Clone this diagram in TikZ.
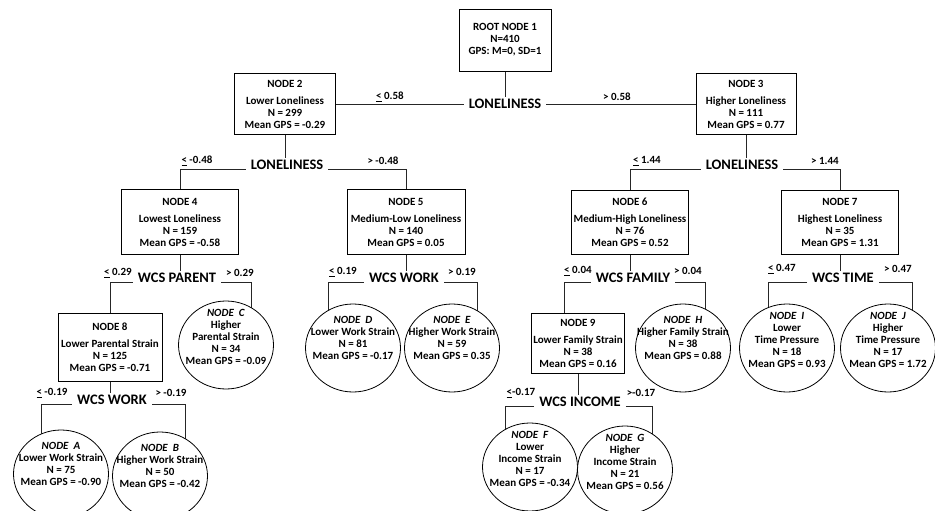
\documentclass[tikz,border=0pt]{standalone}
\usepackage{fontspec}
\setmainfont{Carlito}
\usetikzlibrary{shapes.geometric,backgrounds}

\begin{document}
\begin{tikzpicture}[x=1pt,y=-1pt,
  box/.style={draw, line width=0.9pt, fill=white, align=center, inner sep=0pt,
    font=\bfseries\fontsize{11}{12}\selectfont},
  leaf/.style={draw, ellipse, line width=0.8pt, fill=white,
    minimum width=95pt, minimum height=88pt, inner sep=0pt},
  leaftext/.style={align=center, anchor=north, inner sep=0pt,
    font=\bfseries\fontsize{11}{12}\selectfont},
  split/.style={font=\bfseries\fontsize{14.5}{16}\selectfont, inner xsep=5pt, inner ysep=2pt},
  thr/.style={font=\bfseries\fontsize{11}{12}\selectfont, inner sep=0pt},
  conn/.style={draw, line width=0.7pt, black!85},
]
\useasboundingbox (0,0) rectangle (935,511);

% ---------- level 0 / 1 ----------
\node[box, minimum width=92pt, minimum height=62pt] (root) at (505,40)
  {ROOT NODE 1\\N=410\\GPS: M=0, SD=1};
\node[split] (L1) at (505,104) {LONELINESS};
\node[thr] (t1a) at (390,97) {\underline{<} 0.58};
\node[thr] (t1b) at (617,97) {> 0.58};

\node[box, minimum width=101pt, minimum height=61pt] (n2) at (285,104)
  {NODE 2\\[5pt]Lower Loneliness\\N = 299\\Mean GPS = -0.29};
\node[box, minimum width=100pt, minimum height=61pt] (n3) at (746,104)
  {NODE 3\\[5pt]Higher Loneliness\\N = 111\\Mean GPS = 0.77};

% ---------- level 2 ----------
\node[split] (L2a) at (287,165) {LONELINESS};
\node[thr] (t2a) at (197,161) {\underline{<} -0.48};
\node[thr] (t2b) at (383,161) {> -0.48};
\node[box, minimum width=117pt, minimum height=65pt] (n4) at (180,222)
  {NODE 4\\[5pt]Lowest Loneliness\\N = 159\\Mean GPS = -0.58};
\node[box, minimum width=118pt, minimum height=65pt] (n5) at (406,222)
  {NODE 5\\[5pt]Medium-Low Loneliness\\N = 140\\Mean GPS = 0.05};

\node[split] (L2b) at (742,165) {LONELINESS};
\node[thr] (t2c) at (647,161) {\underline{<} 1.44};
\node[thr] (t2d) at (825,161) {> 1.44};
\node[box, minimum width=117pt, minimum height=64pt] (n6) at (630,222)
  {NODE 6\\[5pt]Medium-High Loneliness\\N = 76\\Mean GPS = 0.52};
\node[box, minimum width=117pt, minimum height=64pt] (n7) at (840,222)
  {NODE 7\\[5pt]Highest Loneliness\\N = 35\\Mean GPS = 1.31};

% ---------- level 3 ----------
\node[split] (L3a) at (177,278) {WCS PARENT};
\node[thr] (t3a) at (118,273) {\underline{<} 0.29};
\node[thr] (t3b) at (240,273) {> 0.29};
\node[box, minimum width=104pt, minimum height=68pt] (n8) at (110,347)
  {NODE 8\\[5pt]Lower Parental Strain\\N = 125\\Mean GPS = -0.71};
\node[leaf] (nC) at (226,345) {};
\node[leaftext] (tC) at ([yshift=-8pt]nC.north)
  {\textit{NODE~~C}\\Higher\\Parental Strain\\N = 34\\Mean GPS = -0.09};

\node[split] (L3b) at (404,278) {WCS WORK};
\node[thr] (t3c) at (343,272) {\underline{<} 0.19};
\node[thr] (t3d) at (462,272) {> 0.19};
\node[leaf] (nD) at (353,348) {};
\node[leaftext] (tD) at ([yshift=-12pt]nD.north)
  {\textit{NODE~~D}\\Lower Work Strain\\N = 81\\Mean GPS = -0.17};
\node[leaf] (nE) at (452,348) {};
\node[leaftext] (tE) at ([yshift=-12pt]nE.north)
  {\textit{NODE~~E}\\Higher Work Strain\\N = 59\\Mean GPS = 0.35};

\node[split] (L3c) at (633,278) {WCS FAMILY};
\node[thr] (t3e) at (578,271) {\underline{<} 0.04};
\node[thr] (t3f) at (688,271) {> 0.04};
\node[box, minimum width=93pt, minimum height=60pt] (n9) at (578,343)
  {NODE 9\\[5pt]Lower Family Strain\\N = 38\\Mean GPS = 0.16};
\node[leaf] (nH) at (683,348) {};
\node[leaftext] (tH) at ([yshift=-12pt]nH.north)
  {\textit{NODE~~H}\\Higher Family Strain\\N = 38\\Mean GPS = 0.88};

\node[split] (L3d) at (843,278) {WCS TIME};
\node[thr] (t3g) at (782,269) {\underline{<} 0.47};
\node[thr] (t3h) at (898,269) {> 0.47};
\node[leaf] (nI) at (787,348) {};
\node[leaftext] (tI) at ([yshift=-8pt]nI.north)
  {\textit{NODE~~I}\\Lower\\Time Pressure\\N = 18\\Mean GPS = 0.93};
\node[leaf] (nJ) at (888,348) {};
\node[leaftext] (tJ) at ([yshift=-8pt]nJ.north)
  {\textit{NODE~~J}\\Higher\\Time Pressure\\N = 17\\Mean GPS = 1.72};

% ---------- level 4 ----------
\node[split] (L4a) at (112,400) {WCS WORK};
\node[thr] (t4a) at (52,393) {\underline{<} -0.19};
\node[thr] (t4b) at (171,393) {> -0.19};
\node[leaf] (nA) at (61,474) {};
\node[leaftext] (tA) at ([yshift=-12pt]nA.north)
  {\textit{NODE~~A}\\Lower Work Strain\\N = 75\\Mean GPS = -0.90};
\node[leaf] (nB) at (160,476) {};
\node[leaftext] (tB) at ([yshift=-12pt]nB.north)
  {\textit{NODE~~B}\\Higher Work Strain\\N = 50\\Mean GPS = -0.42};

\node[split] (L4b) at (580,402) {WCS INCOME};
\node[thr] (t4c) at (521,393) {\underline{<}-0.17};
\node[thr] (t4d) at (641,393) {>-0.17};
\node[leaf] (nF) at (530,467) {};
\node[leaftext] (tF) at ([yshift=-8pt]nF.north)
  {\textit{NODE~~F}\\Lower\\Income Strain\\N = 17\\Mean GPS = -0.34};
\node[leaf] (nG) at (625,470) {};
\node[leaftext] (tG) at ([yshift=-8pt]nG.north)
  {\textit{NODE~~G}\\Higher\\Income Strain\\N = 21\\Mean GPS = 0.56};

% ---------- connectors (behind the filled nodes) ----------
\begin{scope}[on background layer]
  \draw[conn] (root.south) -- (L1.north);
  \draw[conn] (n2.east) -- (L1.west);
  \draw[conn] (L1.east) -- (n3.west);

  \draw[conn] (n2.south) -- (n2.south |- L2a.north);
  \draw[conn] (L2a.base west) -| (n4.north);
  \draw[conn] (L2a.base east) -| (n5.north);
  \draw[conn] (n3.south) -- (n3.south |- L2b.north);
  \draw[conn] (L2b.base west) -| (n6.north);
  \draw[conn] (L2b.base east) -| (n7.north);

  \draw[conn] (n4.south) -- (n4.south |- L3a.north);
  \draw[conn] (L3a.base west) -| (n8.north);
  \draw[conn] (L3a.base east) -| ([xshift=25pt]nC.center);
  \draw[conn] (n5.south) -- (n5.south |- L3b.north);
  \draw[conn] (L3b.base west) -| ([xshift=-25pt]nD.center);
  \draw[conn] (L3b.base east) -| ([xshift=25pt]nE.center);
  \draw[conn] (n6.south) -- (n6.south |- L3c.north);
  \draw[conn] (L3c.base west) -| ([xshift=-14pt]n9.north);
  \draw[conn] (L3c.base east) -| ([xshift=22pt]nH.center);
  \draw[conn] (n7.south) -- (n7.south |- L3d.north);
  \draw[conn] (L3d.base west) -| ([xshift=-19pt]nI.center);
  \draw[conn] (L3d.base east) -| ([xshift=24pt]nJ.center);

  \draw[conn] (n8.south) -- (n8.south |- L4a.north);
  \draw[conn] (L4a.base west) -| ([xshift=-20pt]nA.center);
  \draw[conn] (L4a.base east) -| ([xshift=25pt]nB.center);
  \draw[conn] (n9.south) -- (n9.south |- L4b.north);
  \draw[conn] (L4b.base west) -| ([xshift=-25pt]nF.center);
  \draw[conn] (L4b.base east) -| ([xshift=27pt]nG.center);
\end{scope}
\end{tikzpicture}
\end{document}
